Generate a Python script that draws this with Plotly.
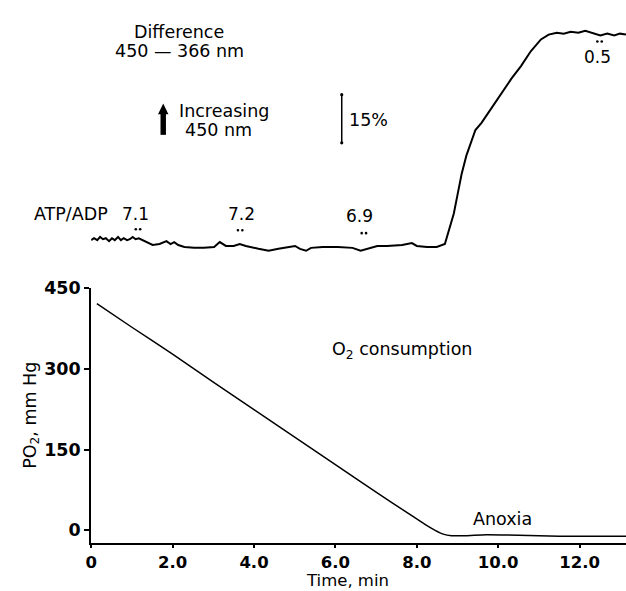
import plotly.graph_objects as go

# ---------------- data ----------------
# O2 tension trace (bottom panel)
o2_time = [0.14, 1.0, 2.0, 3.0, 4.0, 5.0, 6.0, 7.0, 7.8, 8.2, 8.45, 8.65, 8.85, 9.2, 9.7, 10.5, 11.5, 12.5, 13.14]
o2_po2 = [421, 377, 327, 275, 224, 173, 122, 71, 31, 11, 0, -7, -10, -10, -8, -9, -11, -11, -11]

# Difference 450-366 nm trace (top panel), % change relative to baseline
diff_time = [0.00, 0.07, 0.15, 0.22, 0.29, 0.36, 0.44, 0.51, 0.58, 0.66, 0.73, 0.80, 0.88, 0.95,
             1.02, 1.09, 1.17, 1.27, 1.39, 1.51, 1.68, 1.85, 1.95, 2.04, 2.14, 2.29, 2.53, 2.77,
             3.02, 3.16, 3.31, 3.50, 3.65, 3.80, 4.11, 4.36, 4.60, 4.84, 5.01, 5.13, 5.28, 5.40,
             5.69, 6.06, 6.42, 6.62, 6.79, 7.03, 7.27, 7.64, 7.88, 8.00, 8.25, 8.49, 8.69, 8.78,
             8.91, 9.00, 9.10, 9.22, 9.34, 9.44, 9.59, 9.83, 10.07, 10.32, 10.56, 10.80, 11.05,
             11.24, 11.44, 11.61, 11.78, 11.97, 12.14, 12.31, 12.51, 12.68, 12.85, 12.99, 13.14]
diff_pct = [1.8, 2.4, 1.8, 2.8, 2.1, 2.4, 1.5, 2.4, 1.8, 2.8, 1.8, 2.4, 1.8, 2.1,
            2.8, 2.1, 2.4, 1.8, 1.2, 0.3, 0.6, 1.5, 0.6, 1.2, 0.3, -0.3, -0.6, -0.6,
            -0.3, 1.2, 0.0, 0.0, 0.6, 0.0, -0.9, -1.5, -0.9, -0.3, 0.0, -0.9, -1.5, -0.6,
            -0.3, -0.3, -0.6, -1.5, -0.9, 0.0, 0.0, 0.3, 0.9, 0.0, -0.3, -0.3, 0.6, 4.6,
            10.1, 15.9, 22.3, 28.2, 32.8, 36.1, 38.3, 42.9, 47.4, 52.0, 56.0, 60.6, 64.3,
            65.8, 66.4, 66.1, 66.7, 66.4, 67.0, 66.4, 65.5, 66.1, 65.5, 66.1, 65.8]

# ATP/ADP ratios, the times at which they were sampled (dots) and where their labels sit
atp_adp_time = [1.15, 3.66, 6.70, 12.49]
atp_adp_label_time = [1.08, 3.70, 6.60, 12.44]
atp_adp_ratio = ["7.1", "7.2", "6.9", "0.5"]

x_tick_vals = [0, 2, 4, 6, 8, 10, 12]
x_tick_labels = ["0", "2.0", "4.0", "6.0", "8.0", "10.0", "12.0"]
y_tick_vals = [0, 150, 300, 450]
y_tick_labels = ["0", "150", "300", "450"]

scale_bar_pct = 15

# ---------------- figure ----------------
W, H = 626, 591
FONT = "DejaVu Sans"
FS = 17.5


def px(x):
    return x / W


def py(y):
    return 1 - y / H


fig = go.Figure()

fig.add_trace(go.Scatter(x=o2_time, y=o2_po2, mode="lines",
                         line=dict(color="black", width=1.5, shape="spline", smoothing=0.4),
                         xaxis="x", yaxis="y", showlegend=False, hoverinfo="skip"))

fig.add_trace(go.Scatter(x=diff_time, y=diff_pct, mode="lines",
                         line=dict(color="black", width=2),
                         xaxis="x2", yaxis="y2", showlegend=False, hoverinfo="skip"))

x_range = [0, 13.14]
x_dom = [px(86), 1.0]

fig.update_layout(
    width=W, height=H,
    margin=dict(l=0, r=0, t=0, b=0),
    paper_bgcolor="white", plot_bgcolor="white",
    font=dict(family=FONT, color="black", size=FS),
    xaxis=dict(domain=x_dom, range=x_range, showline=True, linecolor="black", linewidth=2,
               ticks="outside", ticklen=3, tickwidth=1.5, tickcolor="black",
               tickvals=x_tick_vals, ticktext=x_tick_labels,
               tickfont=dict(family=FONT, size=16.5, weight="bold"), showgrid=False,
               zeroline=False, anchor="y", fixedrange=True),
    yaxis=dict(domain=[py(542), py(282.7)], range=[-23.2, 450], showline=True,
               linecolor="black", linewidth=2, ticks="outside", ticklen=5, tickwidth=1.5,
               tickcolor="black", tickvals=y_tick_vals, ticktext=y_tick_labels,
               tickfont=dict(family=FONT, size=17.5, weight="bold"), showgrid=False,
               zeroline=False, anchor="x", fixedrange=True),
    xaxis2=dict(domain=x_dom, range=x_range, visible=False, anchor="y2", matches="x"),
    yaxis2=dict(domain=[py(260), 1.0], range=[-6.12, 73.46], visible=False, anchor="x2"),
)

ann = []


def text(x, y, s, size=FS, xanchor="center", xref="paper", yanchor="middle", **kw):
    ann.append(dict(x=x, y=y, xref=xref, yref="paper", text=s,
                    showarrow=False, xanchor=xanchor, yanchor=yanchor,
                    font=dict(family=FONT, size=size, color="black"), **kw))


# top panel texts
text(px(175), py(22), "Difference")
text(px(175), py(41.5), "450 \u2014 366 nm")
text(px(173), py(103), "Increasing", xanchor="left")
text(px(179), py(122), "450 nm", xanchor="left")
text(px(344), py(112), "%d%%" % scale_bar_pct, xanchor="left")
text(px(105), py(208), "ATP/ADP", xanchor="right")

# ATP/ADP ratio labels, with a pair of dots marking each sample
label_y = [208, 208, 210, 48]
dot_y = [223, 224, 227, 32]
shapes = []
for t, lt, r, ly, dy in zip(atp_adp_time, atp_adp_label_time, atp_adp_ratio, label_y, dot_y):
    text(lt, py(ly), r, size=17, xref="x2")
    for dx in (-2.2, 2.2):
        shapes.append(dict(type="circle", xref="x2", yref="paper", xsizemode="pixel",
                           ysizemode="pixel", xanchor=t, yanchor=py(dy),
                           x0=dx - 1.3, x1=dx + 1.3, y0=-1.3, y1=1.3,
                           fillcolor="black", line=dict(width=0)))

# "increasing" arrow (shaft + head)
shapes.append(dict(type="rect", xref="paper", yref="paper", x0=px(156.0), x1=px(161.5),
                   y0=py(127), y1=py(104), fillcolor="black", line=dict(width=0)))
shapes.append(dict(type="path", xref="paper", yref="paper",
                   path="M %f %f L %f %f L %f %f Z" % (px(153.5), py(106), px(164.0), py(106),
                                                       px(158.75), py(95)),
                   fillcolor="black", line=dict(width=0)))

# bottom panel texts
text(7.64, py(346), "O<sub>2</sub> consumption", xref="x")
text(10.1, py(518), "Anoxia", xref="x")
text(6.3, 0.0, "Time, min", size=16.5, xref="x", yanchor="bottom", borderpad=0)
text(px(25), py(412), "PO<sub>2</sub>, mm Hg", textangle=-90)

# 15% scale bar (in top-panel data units)
bar_x = 6.156
bar_base = 32.1
shapes.append(dict(type="line", xref="x2", yref="y2", x0=bar_x, x1=bar_x,
                   y0=bar_base, y1=bar_base + scale_bar_pct, line=dict(color="black", width=1.5)))
for yv in (bar_base, bar_base + scale_bar_pct):
    shapes.append(dict(type="circle", xref="x2", yref="y2", xsizemode="pixel", ysizemode="pixel",
                       xanchor=bar_x, yanchor=yv, x0=-1.6, x1=1.6, y0=-1.6, y1=1.6,
                       fillcolor="black", line=dict(width=0)))

fig.update_layout(annotations=ann, shapes=shapes)

fig.write_html("out.html", config={"displayModeBar": False},
               post_script="document.body.style.margin='0';document.body.style.overflow='hidden';")
